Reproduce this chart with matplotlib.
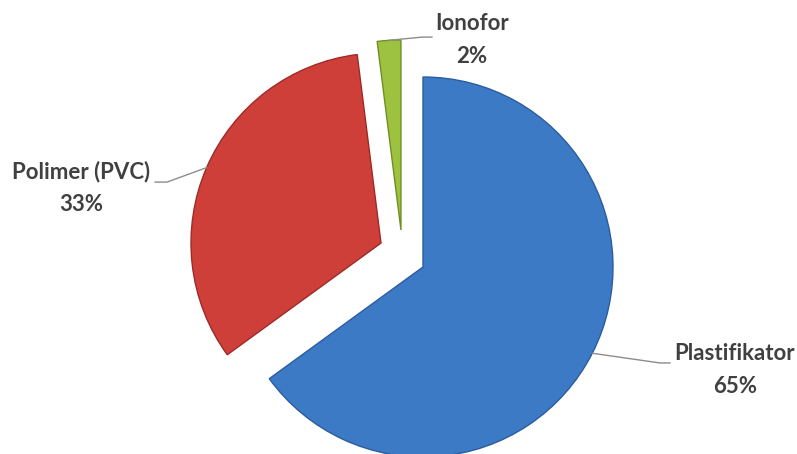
import numpy as np
import matplotlib.pyplot as plt

labels = ['Plastifikator', 'Polimer (PVC)', 'Ionofor']
values = [65, 33, 2]
colors = ['#3d7ac6', '#cf3f3a', '#9cc23f']
edges = ['#2a5c9e', '#9e2a26', '#6f8f24']

# wedge offsets (radius units), label centres, leader elbows and ends (data units)
offsets = [(0.0, 0.0), (-0.221, 0.126), (-0.116, 0.195)]
label_xy = [(1.642, -0.542), (-1.80, 0.416), (0.258, 1.195)]
elbows = [(1.247, -0.505), (-1.347, 0.447), (-0.005, 1.21)]
ends_x = [1.30, -1.41, 0.047]

plt.rcParams['font.family'] = ['Lato', 'DejaVu Sans']

fig = plt.figure(figsize=(7.97, 4.54), dpi=100)
ax = fig.add_axes([0, 0, 1, 1])

wedges, _ = ax.pie(values, colors=colors, startangle=90, counterclock=False,
                   radius=1.0, wedgeprops=dict(linewidth=1.0))

for w, off, ec in zip(wedges, offsets, edges):
    w.set_center(off)
    w.set_edgecolor(ec)

for w, lab, v, (tx, ty), (ex, ey), fx in zip(wedges, labels, values, label_xy, elbows, ends_x):
    mid = np.deg2rad((w.theta1 + w.theta2) / 2)
    cx, cy = w.center
    px, py = cx + np.cos(mid), cy + np.sin(mid)
    ax.plot([px, ex, fx], [py, ey, ey], color='#8c8c8c', lw=1.0)
    ax.text(tx, ty, f'{lab}\n{v}%', ha='center', va='center', fontsize=16,
            fontweight='bold', color='#404040', linespacing=1.7)

ax.set_aspect('auto')
ax.set_xlim(-423 / 190, (797 - 423) / 190)
ax.set_ylim(-187 / 190, (454 - 187) / 190)
ax.axis('off')

plt.savefig('out.png')
